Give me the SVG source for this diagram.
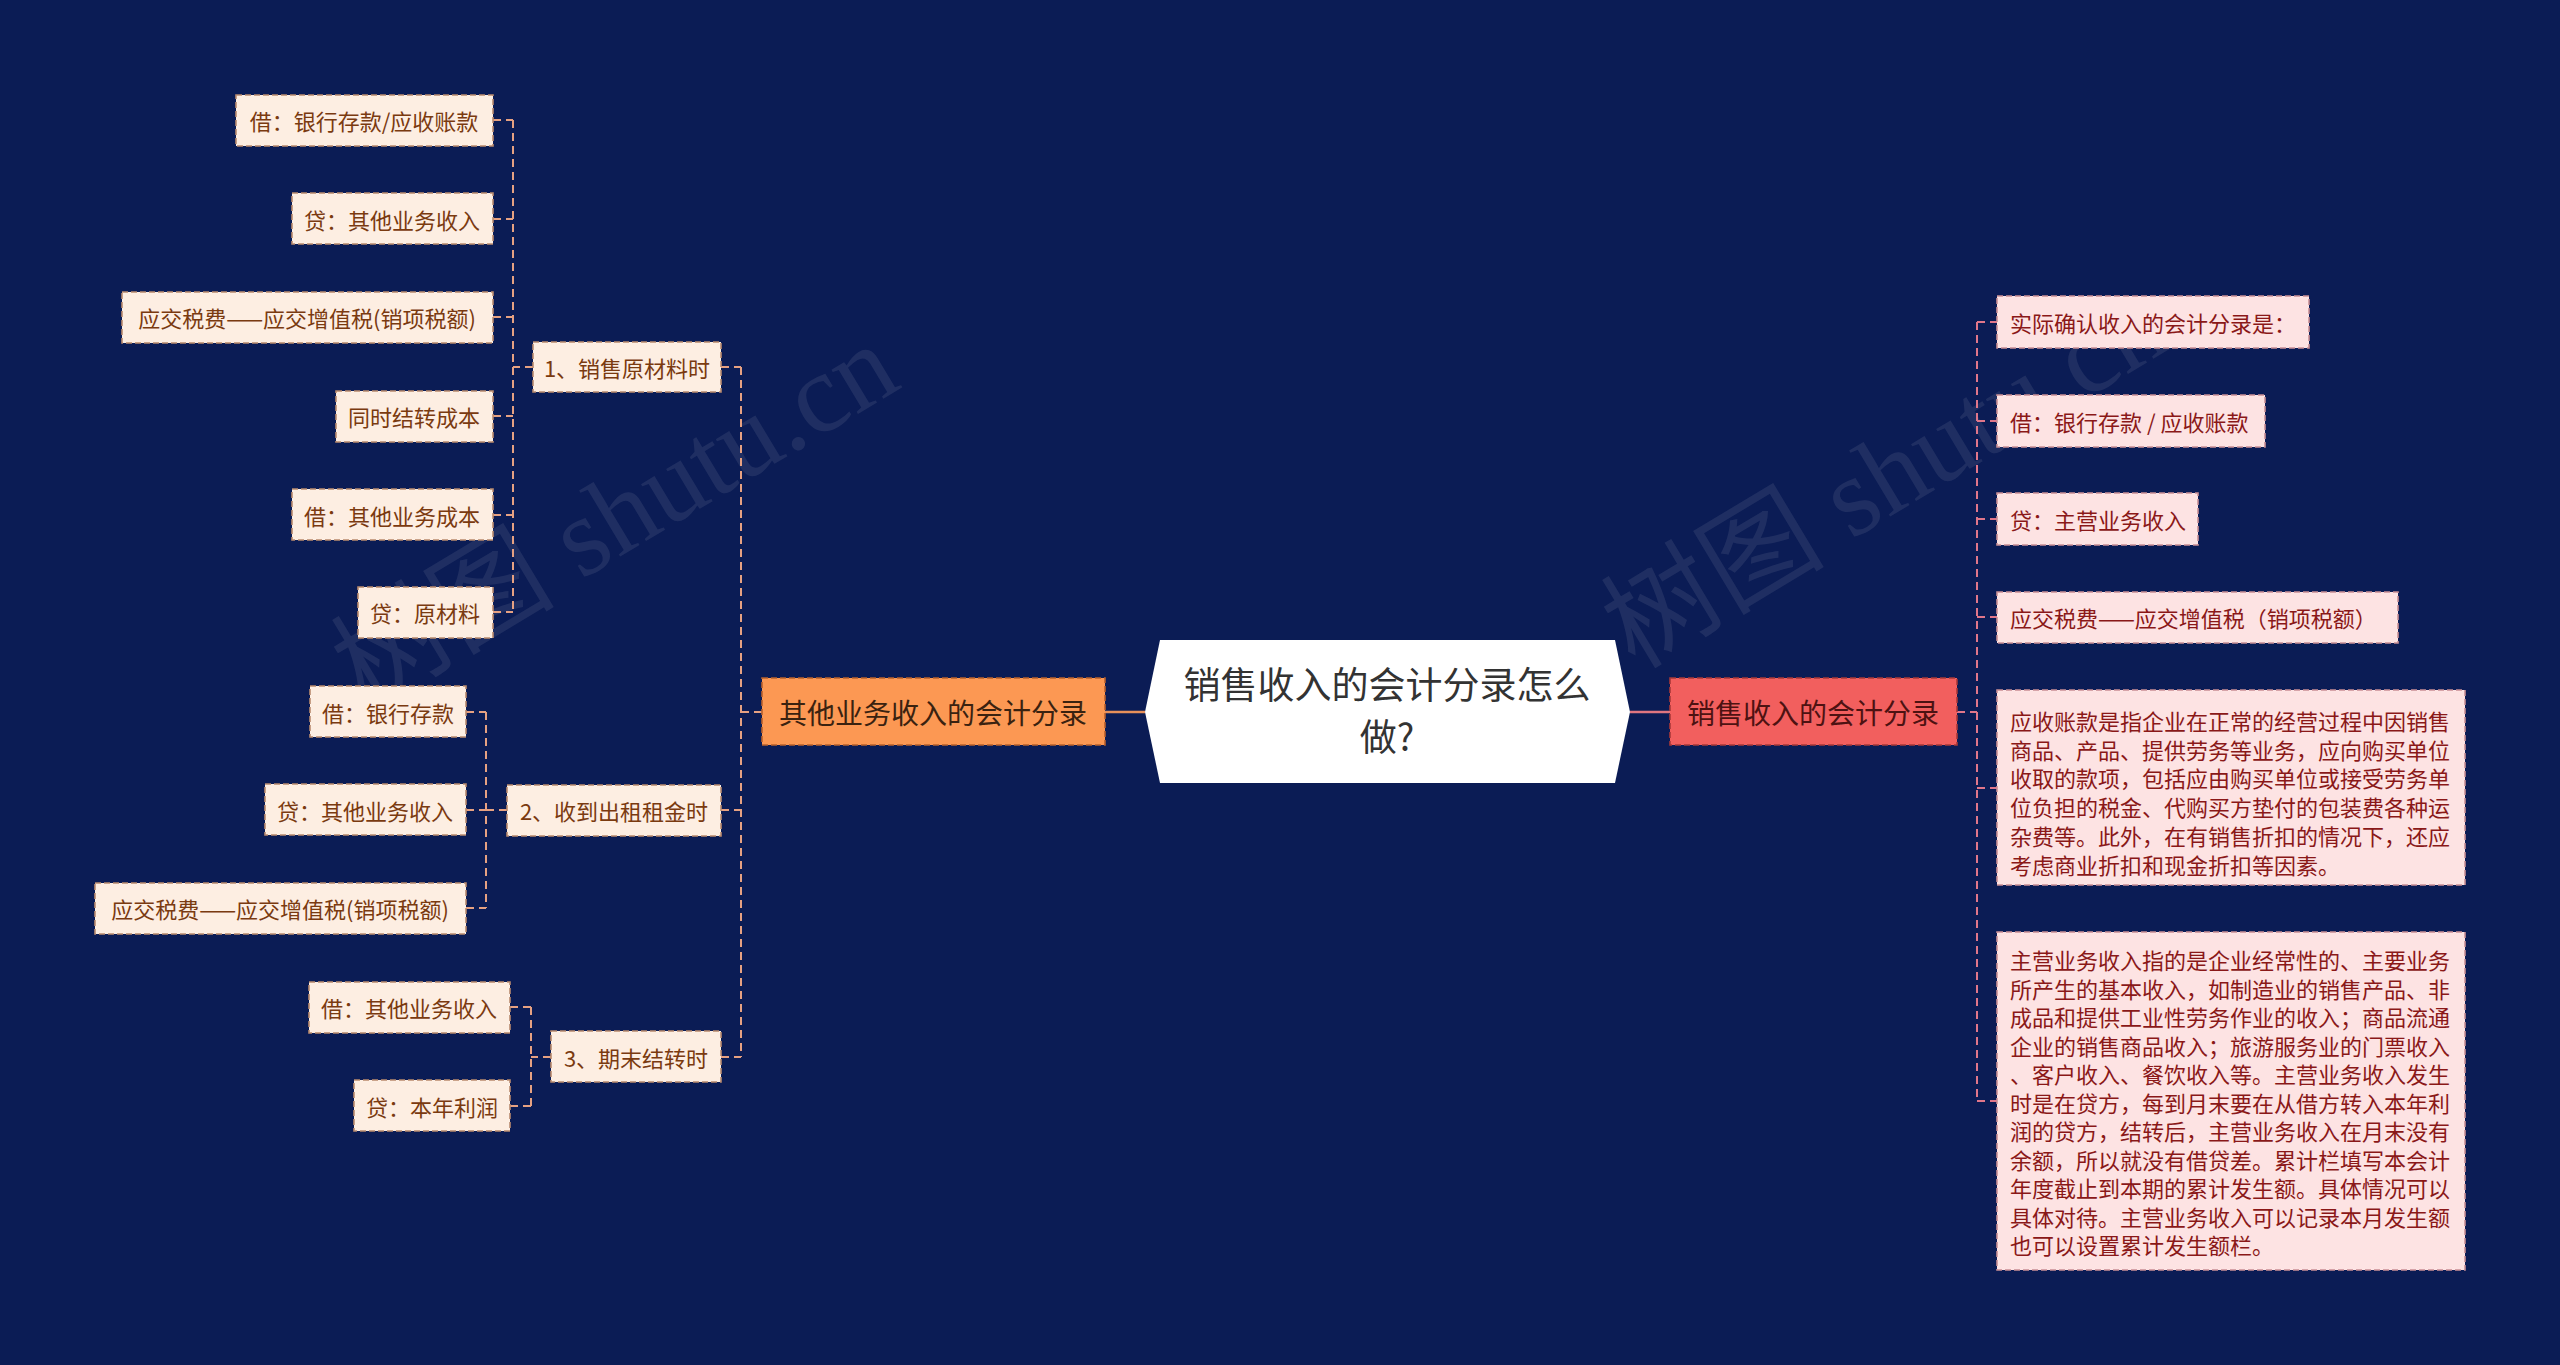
<svg xmlns="http://www.w3.org/2000/svg" width="2560" height="1365" viewBox="0 0 2560 1365">
<style>
text{font-family:"Noto Sans CJK SC","Noto Sans",sans-serif}
.lf rect{fill:#fdeee2;stroke:#b98a6e;stroke-width:1.6;stroke-dasharray:6 3}
.lf text{fill:#7a3a10;font-size:22px;text-anchor:middle;dominant-baseline:central}
.rf rect{fill:#fde3e3;stroke:#c98f95;stroke-width:1.6;stroke-dasharray:6 3}
.rf text{fill:#8a1818;font-size:22px;dominant-baseline:central}
.cl{fill:none;stroke:#e6a182;stroke-width:2;stroke-dasharray:8 5}
.cr{fill:none;stroke:#e0768a;stroke-width:2;stroke-dasharray:8 5}
.wm{font-family:"Liberation Serif","Noto Sans CJK SC",serif;font-size:112px;fill:#c8c8d0;fill-opacity:0.11}
</style>
<rect width="2560" height="1365" fill="#0b1c55"/>
<g id="watermarks">
<text class="wm" transform="translate(365 710) rotate(-31)">树图 shutu.cn</text>
<text class="wm" transform="translate(1635 670) rotate(-31)">树图 shutu.cn</text>
</g>
<g id="connectors">
<path d="M1105 712 H1145" stroke="#e8905a" stroke-width="2.5" fill="none"/>
<path d="M1630 712 H1670" stroke="#e07680" stroke-width="2.5" fill="none"/>
<path class="cl" d="M762 712 H741 M741 367 V1057 M721 367 H741 M721 810 H741 M721 1057 H741"/>
<path class="cl" d="M533 367 H513 M513 120 V612 M493 120 H513 M493 219 H513 M493 317 H513 M493 416 H513 M493 515 H513 M493 612 H513"/>
<path class="cl" d="M507 810 H486 M486 712 V908 M466 712 H486 M466 810 H486 M466 908 H486"/>
<path class="cl" d="M551 1057 H531 M531 1007 V1106 M510 1007 H531 M510 1106 H531"/>
<path class="cr" d="M1957 712 H1977 M1977 322 V1101 M1977 322 H1997 M1977 421 H1997 M1977 519 H1997 M1977 617 H1997 M1977 788 H1997 M1977 1101 H1997"/>
</g>
<g id="center">
<polygon points="1160,640 1615,640 1630,712 1615,783 1160,783 1145,712" fill="#ffffff"/>
<text x="1387" y="699" font-size="37" fill="#333333" text-anchor="middle">销售收入的会计分录怎么</text>
<text x="1387" y="751" font-size="37" fill="#333333" text-anchor="middle">做?</text>
</g>
<g id="branch-left">
<rect x="762" y="678" width="343" height="67" fill="#fc9853" stroke="#b8602c" stroke-width="1.6" stroke-dasharray="6 3"/>
<text x="933" y="712" font-size="28" fill="#3a2210" text-anchor="middle" dominant-baseline="central">其他业务收入的会计分录</text>
</g>
<g id="branch-right">
<rect x="1670" y="678" width="287" height="67" fill="#f25f5e" stroke="#a83838" stroke-width="1.6" stroke-dasharray="6 3"/>
<text x="1813" y="712" font-size="28" fill="#4d1212" text-anchor="middle" dominant-baseline="central">销售收入的会计分录</text>
</g>
<g id="l1" class="lf"><rect x="533" y="342" width="188" height="50"/><text x="627" y="367">1、销售原材料时</text></g>
<g id="l2" class="lf"><rect x="507" y="785" width="214" height="51"/><text x="614" y="810">2、收到出租租金时</text></g>
<g id="l3" class="lf"><rect x="551" y="1031" width="170" height="51"/><text x="636" y="1057">3、期末结转时</text></g>
<g id="l1a" class="lf"><rect x="236" y="95" width="257" height="51"/><text x="364" y="120">借：银行存款/应收账款</text></g>
<g id="l1b" class="lf"><rect x="292" y="193" width="201" height="51"/><text x="392" y="219">贷：其他业务收入</text></g>
<g id="l1c" class="lf"><rect x="122" y="292" width="371" height="51"/><text x="307" y="317">应交税费——应交增值税(销项税额)</text></g>
<g id="l1d" class="lf"><rect x="336" y="391" width="157" height="51"/><text x="414" y="416">同时结转成本</text></g>
<g id="l1e" class="lf"><rect x="292" y="489" width="201" height="51"/><text x="392" y="515">借：其他业务成本</text></g>
<g id="l1f" class="lf"><rect x="358" y="587" width="135" height="51"/><text x="425" y="612">贷：原材料</text></g>
<g id="l2a" class="lf"><rect x="310" y="686" width="156" height="51"/><text x="388" y="712">借：银行存款</text></g>
<g id="l2b" class="lf"><rect x="265" y="784" width="201" height="51"/><text x="365" y="810">贷：其他业务收入</text></g>
<g id="l2c" class="lf"><rect x="95" y="883" width="371" height="51"/><text x="280" y="908">应交税费——应交增值税(销项税额)</text></g>
<g id="l3a" class="lf"><rect x="309" y="982" width="201" height="51"/><text x="409" y="1007">借：其他业务收入</text></g>
<g id="l3b" class="lf"><rect x="354" y="1080" width="156" height="51"/><text x="432" y="1106">贷：本年利润</text></g>
<g id="r1" class="rf"><rect x="1997" y="296" width="312" height="52"/><text x="2010" y="322">实际确认收入的会计分录是：</text></g>
<g id="r2" class="rf"><rect x="1997" y="395" width="268" height="52"/><text x="2010" y="421">借：银行存款 / 应收账款</text></g>
<g id="r3" class="rf"><rect x="1997" y="493" width="201" height="52"/><text x="2010" y="519">贷：主营业务收入</text></g>
<g id="r4" class="rf"><rect x="1997" y="592" width="401" height="51"/><text x="2010" y="617">应交税费——应交增值税（销项税额）</text></g>
<g id="r5" class="rf"><rect x="1997" y="690" width="468" height="195"/>
<text x="2010" y="720">应收账款是指企业在正常的经营过程中因销售</text>
<text x="2010" y="749">商品、产品、提供劳务等业务，应向购买单位</text>
<text x="2010" y="777">收取的款项，包括应由购买单位或接受劳务单</text>
<text x="2010" y="806">位负担的税金、代购买方垫付的包装费各种运</text>
<text x="2010" y="835">杂费等。此外，在有销售折扣的情况下，还应</text>
<text x="2010" y="864">考虑商业折扣和现金折扣等因素。</text>
</g>
<g id="r6" class="rf"><rect x="1997" y="932" width="468" height="338"/>
<text x="2010" y="959">主营业务收入指的是企业经常性的、主要业务</text>
<text x="2010" y="987.5">所产生的基本收入，如制造业的销售产品、非</text>
<text x="2010" y="1016">成品和提供工业性劳务作业的收入；商品流通</text>
<text x="2010" y="1044.5">企业的销售商品收入；旅游服务业的门票收入</text>
<text x="2010" y="1073">、客户收入、餐饮收入等。主营业务收入发生</text>
<text x="2010" y="1101.5">时是在贷方，每到月末要在从借方转入本年利</text>
<text x="2010" y="1130">润的贷方，结转后，主营业务收入在月末没有</text>
<text x="2010" y="1158.5">余额，所以就没有借贷差。累计栏填写本会计</text>
<text x="2010" y="1187">年度截止到本期的累计发生额。具体情况可以</text>
<text x="2010" y="1215.5">具体对待。主营业务收入可以记录本月发生额</text>
<text x="2010" y="1244">也可以设置累计发生额栏。</text>
</g>
</svg>
